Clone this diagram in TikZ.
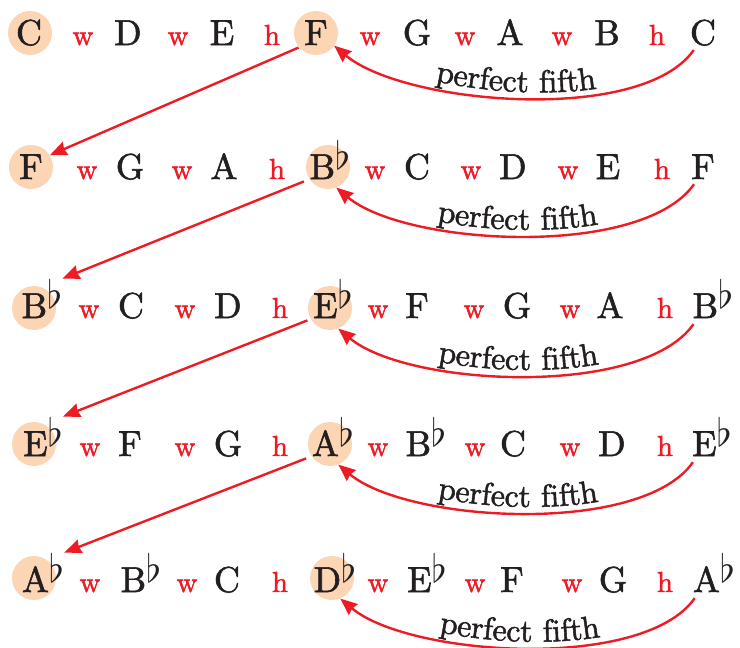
\RequirePackage{fix-cm}
\documentclass[tikz,border=0pt]{standalone}
\usepackage{graphicx}
\usepackage{fontspec}
\setmainfont{lmroman10-regular.otf}[FakeBold=1.6]
\usetikzlibrary{arrows.meta,decorations.text}
\definecolor{nred}{HTML}{ED1C24}
\definecolor{peach}{HTML}{FCD5B4}
\definecolor{ink}{HTML}{231F20}
\newcommand\myflat{\raisebox{10pt}{\scalebox{3.9}{\fontsize{10}{10}\selectfont$\flat$}}}
\begin{document}
\begin{tikzpicture}[x=1pt,y=-1pt,
  note/.style={anchor=base,inner sep=0pt,text=ink,font=\fontsize{36}{36}\selectfont},
  stp/.style={anchor=base,inner sep=0pt,text=nred,font=\fontsize{29}{29}\selectfont},
  ring/.style={circle,fill=peach,minimum size=44pt,inner sep=0pt},
  link/.style={draw=nred,line width=2.4pt,-{Stealth[length=17pt,width=14pt,inset=1.5pt]}},
  fifthtext/.style={decorate,decoration={text along path,
     text={|\fontsize{32}{32}\selectfont|perfect fifth},
     text align=center,raise=6pt,text color=ink}},
]
\useasboundingbox (0,0) rectangle (740,648);
% circles
\node[ring] (r1a) at (30,33) {};
\node[ring] (r1b) at (316,33) {};
\node[ring] (r2a) at (31,167) {};
\node[ring] (r2b) at (328,167) {};
\node[ring] (r3a) at (34,308) {};
\node[ring] (r3b) at (330,308) {};
\node[ring] (r4a) at (34,444) {};
\node[ring] (r4b) at (330,444) {};
\node[ring] (r5a) at (34,578) {};
\node[ring] (r5b) at (332,578) {};
% rows
\foreach \x/\t/\k [count=\i] in {29/C/note,83/w/stp,128/D/note,178/w/stp,222/E/note,272/h/stp,316/F/note,370/w/stp,417/G/note,465/w/stp,510/A/note,562/w/stp,607/B/note,657/h/stp,703/C/note}
  \node[\k] (r1n\i) at (\x,45) {\t};
\foreach \x/\t/\k [count=\i] in {31/F/note,87/w/stp,130/G/note,182/w/stp,224/A/note,277/h/stp,330/B\myflat/note,375/w/stp,417/C/note,471/w/stp,513/D/note,568/w/stp,608/E/note,662/h/stp,703/F/note}
  \node[\k] (r2n\i) at (\x,179) {\t};
\foreach \x/\t/\k [count=\i] in {42/B\myflat/note,89/w/stp,131/C/note,185/w/stp,228/D/note,280/h/stp,333/E\myflat/note,378/w/stp,417/F/note,474/w/stp,517/G/note,570/w/stp,610/A/note,665/h/stp,713/B\myflat/note}
  \node[\k] (r3n\i) at (\x,318) {\t};
\foreach \x/\t/\k [count=\i] in {43/E\myflat/note,90/w/stp,130/F/note,185/w/stp,228/G/note,280/h/stp,333/A\myflat/note,378/w/stp,426/B\myflat/note,475/w/stp,513/C/note,570/w/stp,612/D/note,665/h/stp,712/E\myflat/note}
  \node[\k] (r4n\i) at (\x,456) {\t};
\foreach \x/\t/\k [count=\i] in {43/A\myflat/note,90/w/stp,141/B\myflat/note,187/w/stp,227/C/note,280/h/stp,335/D\myflat/note,378/w/stp,427/E\myflat/note,475/w/stp,512/F/note,572/w/stp,613/G/note,665/h/stp,714/A\myflat/note}
  \node[\k] (r5n\i) at (\x,592) {\t};
% diagonal links
\draw[link,shorten <=6pt] (r1n7.south west) -- (r2a.32);
\draw[link,shorten <=6pt] (r2n7.south west) -- (r3n1.north east);
\draw[link,shorten <=6pt] (r3n7.south west) -- (r4n1.north east);
\draw[link,shorten <=6pt] (r4n7.south west) -- (r5n1.north east);
% perfect fifth arcs
\coordinate (s1) at ([shift={(4pt,-4pt)}]r1n15.south west);
\coordinate (s2) at ([shift={(3pt,-5pt)}]r2n15.south west);
\coordinate (s3) at ([shift={(1pt,-6pt)}]r3n15.south west);
\coordinate (s4) at ([shift={(1pt,-6pt)}]r4n15.south west);
\coordinate (s5) at ([shift={(2pt,-6pt)}]r5n15.south west);
\draw[link] (s1) to[out=235,in=-40,looseness=0.65] (r1b.-35);
\path[fifthtext] (r1b.-35) to[out=-40,in=235,looseness=0.65] (s1);
\draw[link] (s2) to[out=235,in=-40,looseness=0.65] (r2b.-68);
\path[fifthtext] (r2b.-68) to[out=-40,in=235,looseness=0.65] (s2);
\draw[link] (s3) to[out=235,in=-40,looseness=0.65] (r3b.-68);
\path[fifthtext] (r3b.-68) to[out=-40,in=235,looseness=0.65] (s3);
\draw[link] (s4) to[out=235,in=-40,looseness=0.65] (r4b.-68);
\path[fifthtext] (r4b.-68) to[out=-40,in=235,looseness=0.65] (s4);
\draw[link] (s5) to[out=235,in=-40,looseness=0.65] (r5b.-68);
\path[fifthtext] (r5b.-68) to[out=-40,in=235,looseness=0.65] (s5);
\end{tikzpicture}
\end{document}
